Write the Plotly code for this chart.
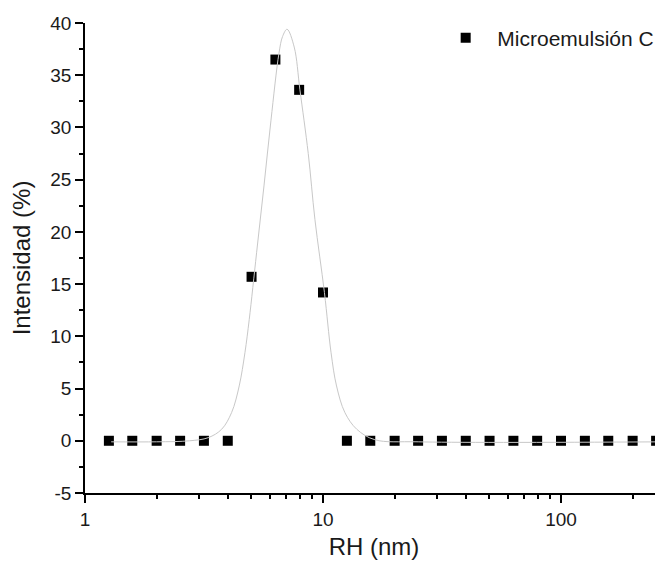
import plotly.graph_objects as go

# Data points (RH in nm, intensity in %)
rh_nm = [1.26, 1.58, 2.00, 2.51, 3.16, 3.98, 5.01, 6.31, 7.94, 10.0, 12.6, 15.8,
         20.0, 25.1, 31.6, 39.8, 50.1, 63.1, 79.4, 100.0, 126.0, 158.0, 200.0, 251.0]
intensity = [0, 0, 0, 0, 0, 0, 15.7, 36.5, 33.6, 14.2, 0, 0,
             0, 0, 0, 0, 0, 0, 0, 0, 0, 0, 0, 0]

# Fit curve
fit_rh = [1.288, 1.995, 2.754, 3.296, 3.750, 4.130, 4.446, 4.699, 4.898, 5.260,
          5.649, 6.046, 6.531, 6.761, 7.063, 7.568, 7.998, 8.670, 9.247, 10.14,
          10.81, 11.40, 12.36, 13.87, 16.52, 25.12, 269.0]
fit_int = [-0.1, -0.1, 0.0, 0.3, 1.1, 2.7, 5.25, 8.44, 11.6, 18.0,
           24.4, 30.7, 37.1, 38.7, 39.4, 37.7, 33.6, 27.5, 21.2, 14.2,
           8.44, 5.25, 2.7, 1.1, 0.1, -0.1, -0.1]

series_name = "\u00a0\u00a0Microemulsión C"
x_tickvals = [1, 10, 100]
x_ticktext = ["1", "10", "100"]
x_minor = [2, 3, 4, 5, 6, 7, 8, 9, 20, 30, 40, 50, 60, 70, 80, 90, 200]
y_tickvals = [-5, 0, 5, 10, 15, 20, 25, 30, 35, 40]
y_ticktext = ["-5", "0", "5", "10", "15", "20", "25", "30", "35", "40"]

FONT = "Liberation Sans, Arial, sans-serif"
TXT = "#1a1a1a"

fig = go.Figure()
fig.add_trace(go.Scatter(
    x=rh_nm, y=intensity, mode="markers", name=series_name,
    marker=dict(symbol="square", size=10, color="black", line=dict(width=0)),
    cliponaxis=False,
))
fig.add_trace(go.Scatter(
    x=fit_rh, y=fit_int, mode="lines", showlegend=False,
    line=dict(color="#c8c8c8", width=1, shape="spline", smoothing=1.0),
))

fig.update_layout(
    width=655, height=560,
    margin=dict(l=77, r=0, t=15, b=75, autoexpand=False),
    paper_bgcolor="white", plot_bgcolor="white",
    font=dict(family=FONT, color=TXT, size=19),
    showlegend=True,
    legend=dict(x=0.624, y=0.968, xanchor="left", yanchor="middle",
                bgcolor="rgba(0,0,0,0)", font=dict(size=21, family=FONT, color=TXT)),
    xaxis=dict(
        type="log", range=[0, 2.4286], automargin=False,
        showline=True, linecolor="black", linewidth=1.5,
        ticks="outside", ticklen=8, tickwidth=1.5, tickcolor="black",
        tickvals=x_tickvals, ticktext=x_ticktext,
        tickfont=dict(size=19, family=FONT, color=TXT),
        minor=dict(ticks="outside", ticklen=4, tickwidth=1.5, tickcolor="black",
                   tickvals=x_minor),
        showgrid=False, zeroline=False, mirror=False,
        title=dict(text="RH (nm)", font=dict(size=24, family=FONT, color=TXT), standoff=10),
    ),
    yaxis=dict(
        range=[-5, 40], automargin=False,
        showline=True, linecolor="black", linewidth=1.5,
        ticks="outside", ticklen=8, tickwidth=1.5, tickcolor="black",
        tickvals=y_tickvals, ticktext=y_ticktext,
        tickfont=dict(size=19, family=FONT, color=TXT),
        minor=dict(ticks="outside", ticklen=4, tickwidth=1.5, tickcolor="black",
                   dtick=2.5, tick0=-5),
        showgrid=False, zeroline=False, mirror=False,
        title=dict(text="Intensidad (%)", font=dict(size=24, family=FONT, color=TXT), standoff=15),
    ),
)

fig.write_html("out.html")
